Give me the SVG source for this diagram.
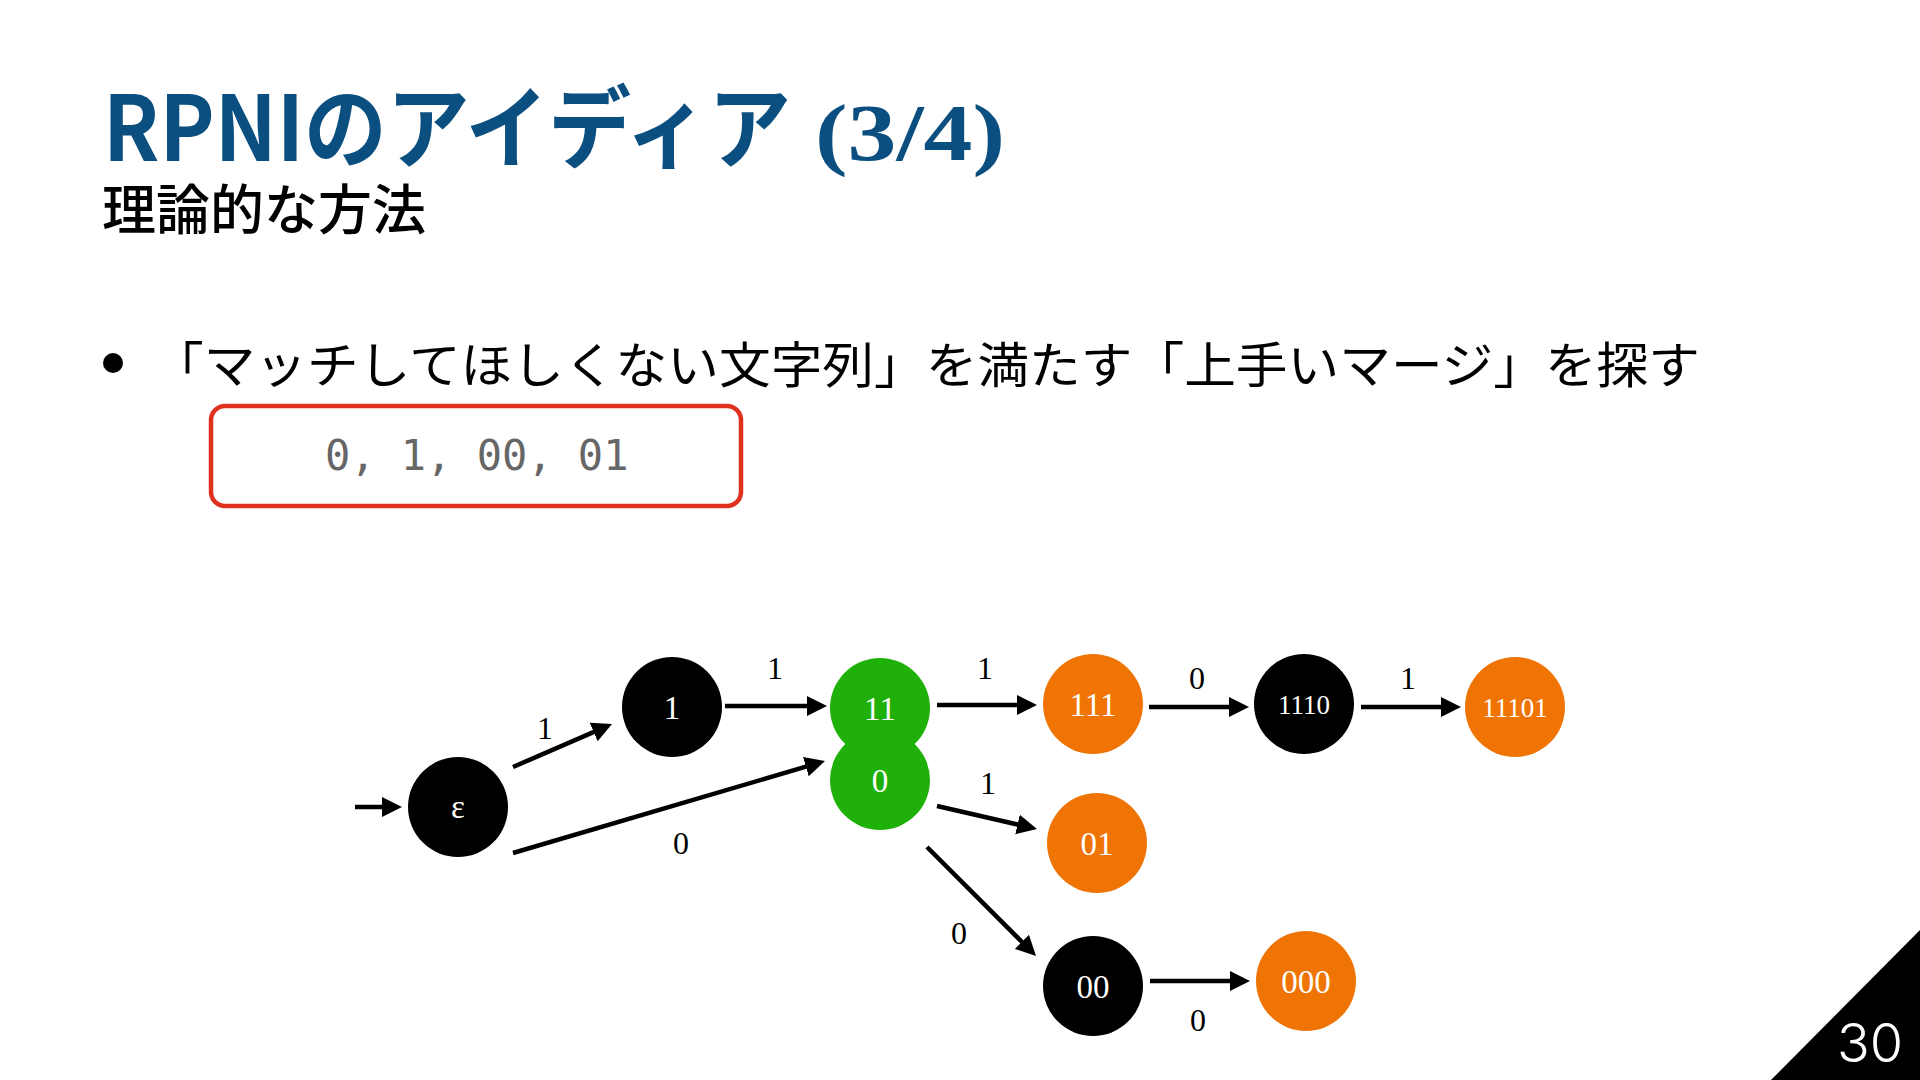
<svg xmlns="http://www.w3.org/2000/svg" width="1920" height="1080" viewBox="0 0 1920 1080">
<style>
.title{font-family:"Noto Sans CJK JP","Noto Sans",sans-serif;font-weight:700;fill:#0b4f80}
.titles{font-family:"Liberation Serif","DejaVu Serif",serif;font-weight:700;fill:#0b4f80}
.sub{font-family:"Noto Sans CJK JP",sans-serif;font-weight:500;fill:#000}
.body{font-family:"Noto Sans CJK JP",sans-serif;font-weight:400;fill:#000}
.mono{font-family:"DejaVu Sans Mono","Liberation Mono",monospace;fill:#666}
.edge{stroke:#000;stroke-width:4.5;fill:none;marker-end:url(#ah)}
.elbl{font-family:"Liberation Serif",serif;font-size:32px;fill:#000;text-anchor:middle}
.nlbl{font-family:"Liberation Serif",serif;font-size:33px;fill:#fff;text-anchor:middle}
.nlbs{font-family:"Liberation Serif",serif;font-size:27px;fill:#fff;text-anchor:middle}
.black{fill:#000}
.green{fill:#20b00a}
.orange{fill:#f07404}
</style>
<defs>
<marker id="ah" markerUnits="userSpaceOnUse" markerWidth="22" markerHeight="22" refX="1" refY="10" orient="auto">
<path d="M0,0 L20,10 L0,20 z" fill="#000"/>
</marker>
</defs>
<rect width="1920" height="1080" fill="#fff"/>

<text class="title" x="103" y="161" font-size="90" textLength="688" lengthAdjust="spacingAndGlyphs">RPNIのアイディア</text>
<text class="titles" x="815" y="160" font-size="80" textLength="190" lengthAdjust="spacingAndGlyphs">(3/4)</text>
<text class="sub" x="102" y="230" font-size="54">理論的な方法</text>

<circle cx="113" cy="363" r="10" fill="#000"/>
<text class="body" x="152" y="383" font-size="49" textLength="1548" lengthAdjust="spacingAndGlyphs">「マッチしてほしくない文字列」を満たす「上手いマージ」を探す</text>

<g id="constraint-box">
<rect x="211" y="406" width="530" height="100" rx="14" fill="#fff" stroke="#e0301e" stroke-width="4.5"/>
<text class="mono" x="325" y="470" font-size="42">0, 1, 00, 01</text>
</g>

<g id="connectors">
<line class="edge" x1="355" y1="807" x2="383" y2="807"/>
<line class="edge" x1="513" y1="767" x2="594.6" y2="731.6"/>
<line class="edge" x1="513" y1="853" x2="806.8" y2="766.4"/>
<line class="edge" x1="725" y1="706" x2="808" y2="706"/>
<line class="edge" x1="937" y1="705" x2="1018" y2="705"/>
<line class="edge" x1="1149" y1="707" x2="1230" y2="707"/>
<line class="edge" x1="1361" y1="707" x2="1442" y2="707"/>
<line class="edge" x1="937" y1="806" x2="1018.5" y2="824.7"/>
<line class="edge" x1="927" y1="847" x2="1022.6" y2="942.6"/>
<line class="edge" x1="1150" y1="981" x2="1231" y2="981"/>
<text class="elbl" x="545" y="739">1</text>
<text class="elbl" x="681" y="854">0</text>
<text class="elbl" x="775" y="679">1</text>
<text class="elbl" x="985" y="679">1</text>
<text class="elbl" x="1197" y="689">0</text>
<text class="elbl" x="1408" y="689">1</text>
<text class="elbl" x="988" y="794">1</text>
<text class="elbl" x="959" y="944">0</text>
<text class="elbl" x="1198" y="1031">0</text>
</g>

<g id="node-eps"><circle class="black" cx="458" cy="807" r="50"/><text class="nlbl" x="458" y="818">ε</text></g>
<g id="node-1"><circle class="black" cx="672" cy="707" r="50"/><text class="nlbl" x="672" y="719">1</text></g>
<g id="node-11"><circle class="green" cx="880" cy="708" r="50"/><text class="nlbl" x="880" y="720">11</text></g>
<g id="node-0"><circle class="green" cx="880" cy="780" r="50"/><text class="nlbl" x="880" y="792">0</text></g>
<g id="node-111"><circle class="orange" cx="1093" cy="704" r="50"/><text class="nlbl" x="1093" y="716">111</text></g>
<g id="node-1110"><circle class="black" cx="1304" cy="704" r="50"/><text class="nlbs" x="1304" y="714">1110</text></g>
<g id="node-11101"><circle class="orange" cx="1515" cy="707" r="50"/><text class="nlbs" x="1515" y="717">11101</text></g>
<g id="node-01"><circle class="orange" cx="1097" cy="843" r="50"/><text class="nlbl" x="1097" y="855">01</text></g>
<g id="node-00"><circle class="black" cx="1093" cy="986" r="50"/><text class="nlbl" x="1093" y="998">00</text></g>
<g id="node-000"><circle class="orange" cx="1306" cy="981" r="50"/><text class="nlbl" x="1306" y="993">000</text></g>

<g id="page-number">
<polygon points="1771,1080 1920,930 1920,1080" fill="#000"/>
<text x="1903" y="1062" font-family="Inter,'Noto Sans',sans-serif" font-weight="300" font-size="54" fill="#fff" text-anchor="end">30</text>
</g>
</svg>
